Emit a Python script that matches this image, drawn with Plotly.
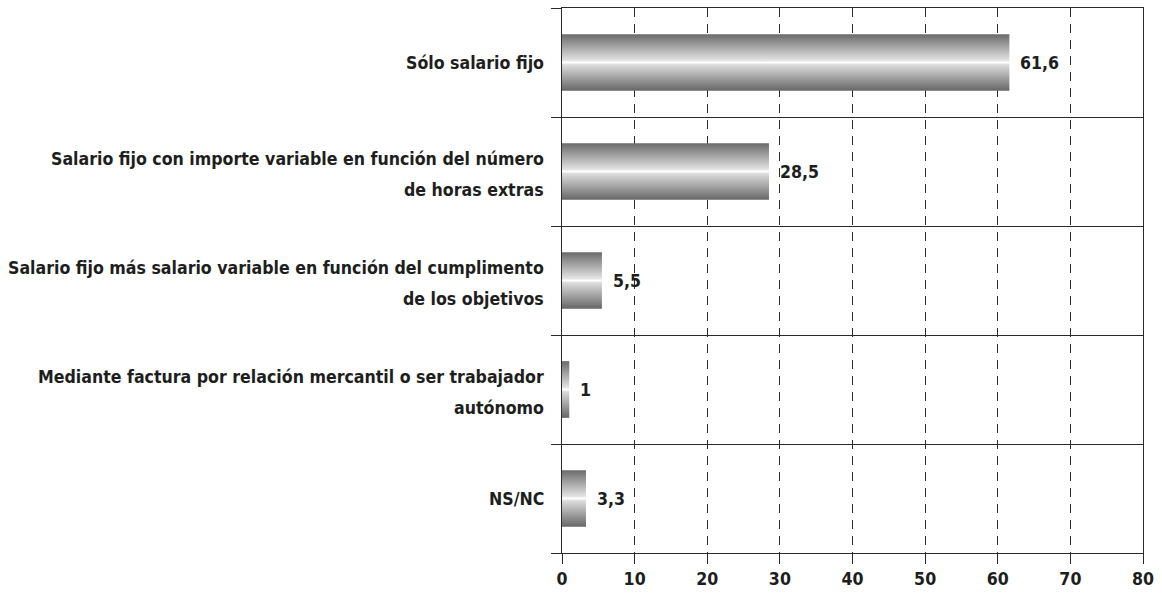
import plotly.graph_objects as go

# Survey answers: how salary is paid (percent of respondents)
categories = [
    "Sólo salario fijo",
    "Salario fijo con importe variable en función del número<br>de horas extras",
    "Salario fijo más salario variable en función del cumplimento<br>de los objetivos",
    "Mediante factura por relación mercantil o ser trabajador<br>autónomo",
    "NS/NC",
]
values = [61.6, 28.5, 5.5, 1, 3.3]
x_ticks = [0, 10, 20, 30, 40, 50, 60, 70, 80]

FONT = "Liberation Sans Narrow, DejaVu Sans Condensed, Roboto Condensed, Liberation Sans, sans-serif"
TXT = "#1e1e1e"
LINE = "#2a2a2a"
FS = 17.6
HALF = 0.26          # half bar thickness (category units)
LINE_GAP = 31        # px between the two lines of a wrapped label

metal = [
    [0.00, "#666666"],
    [0.46, "#dcdcdc"],
    [0.50, "#ffffff"],
    [0.54, "#e2e2e2"],
    [1.00, "#6a6a6a"],
]

fig = go.Figure()

for i, v in enumerate(values):
    fig.add_trace(go.Scatter(
        x=[0, v, v, 0, 0],
        y=[i - HALF, i - HALF, i + HALF, i + HALF, i - HALF],
        mode="lines",
        fill="toself",
        line=dict(width=0, color="rgba(0,0,0,0)"),
        fillgradient=dict(type="vertical", colorscale=metal),
        hoverinfo="skip",
        showlegend=False,
    ))

# value labels next to each bar
for i, v in enumerate(values):
    fig.add_annotation(
        x=v, y=i, xref="x", yref="y",
        text=f"{v:g}".replace(".", ","),
        showarrow=False, xanchor="left", xshift=9,
        font=dict(family=FONT, size=FS, color=TXT, weight="bold"),
    )

# category labels, right-aligned, wrapped lines spaced apart
for i, label in enumerate(categories):
    lines = label.split("<br>")
    n = len(lines)
    for j, line in enumerate(lines):
        off = (j - (n - 1) / 2) * LINE_GAP + (3 if n > 1 else 0)
        fig.add_annotation(
            x=0, y=i, xref="paper", yref="y",
            text=line, showarrow=False,
            xanchor="right", yanchor="middle", xshift=-16, yshift=-off,
            font=dict(family=FONT, size=FS, color=TXT, weight="bold"),
        )

n = len(categories)
bounds = [k - 0.5 for k in range(n + 1)]

fig.update_layout(
    width=1162, height=599,
    margin=dict(l=562, r=19, t=8, b=46),
    paper_bgcolor="white", plot_bgcolor="white",
    xaxis=dict(
        range=[0, 80], tickvals=x_ticks, ticktext=[str(t) for t in x_ticks],
        showgrid=True, gridcolor=LINE, gridwidth=1.2, griddash="9px,7px",
        zeroline=False, showline=True, linecolor=LINE, linewidth=1.3, mirror=True,
        ticks="outside", ticklen=10, tickcolor=LINE, tickwidth=1.3,
        tickfont=dict(family=FONT, size=FS, color=TXT, weight="bold"),
        fixedrange=True,
    ),
    yaxis=dict(
        range=[n - 0.5, -0.5], tickvals=bounds, showticklabels=False,
        showgrid=True, gridcolor=LINE, gridwidth=1.3,
        zeroline=False, showline=True, linecolor=LINE, linewidth=1.3, mirror=True,
        ticks="outside", ticklen=10, tickcolor=LINE, tickwidth=1.3,
        fixedrange=True,
    ),
)

fig.write_html("out.html")
